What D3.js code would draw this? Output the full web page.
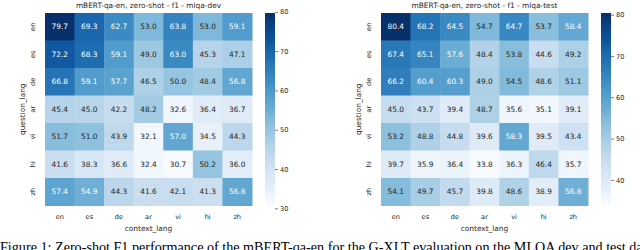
<!DOCTYPE html>
<html lang="en">
<head>
<meta charset="UTF-8">
<script src="https://d3js.org/d3.v7.min.js"></script>
<title>mlqa heatmaps</title>
<style>
  body { margin: 0; background: #fff; }
  svg text { font-family: "DejaVu Sans", sans-serif; fill: #262626; }
  .caption { font-family: "Liberation Serif", serif; fill: #000; }
</style>
</head>
<body>
<div id="chart"></div>
<script>
// languages on both axes
var langs = ['en', 'es', 'de', 'ar', 'vi', 'hi', 'zh'];

// f1 values, rows = question_lang, cols = context_lang
var devValues = [
  [79.7, 69.3, 62.7, 53.0, 63.8, 53.0, 59.1],
  [72.2, 68.3, 59.1, 49.0, 63.0, 45.3, 47.1],
  [66.8, 59.1, 57.7, 46.5, 50.0, 48.4, 56.8],
  [45.4, 45.0, 42.2, 48.2, 32.6, 36.4, 36.7],
  [51.7, 51.0, 43.9, 32.1, 57.0, 34.5, 44.3],
  [41.6, 38.3, 36.6, 32.4, 30.7, 50.2, 36.0],
  [57.4, 54.9, 44.3, 41.6, 42.1, 41.3, 56.8]
];
var testValues = [
  [80.4, 68.2, 64.5, 54.7, 64.7, 53.7, 58.4],
  [67.4, 65.1, 57.6, 48.4, 53.8, 44.6, 49.2],
  [66.2, 60.4, 60.3, 49.0, 54.5, 48.6, 51.1],
  [45.0, 43.7, 39.4, 48.7, 35.6, 35.1, 39.1],
  [53.2, 48.8, 44.8, 39.6, 58.3, 39.5, 43.4],
  [39.7, 35.9, 36.4, 33.8, 36.3, 46.4, 35.7],
  [54.1, 49.7, 45.7, 39.8, 48.6, 38.9, 56.8]
];
var devTicks = [30, 40, 50, 60, 70, 80];
var testTicks = [40, 50, 60, 70, 80];
var titles = ['mBERT-qa-en, zero-shot - f1 - mlqa-dev', 'mBERT-qa-en, zero-shot - f1 - mlqa-test'];
var caption = 'Figure 1: Zero-shot F1 performance of the mBERT-qa-en for the G-XLT evaluation on the MLQA dev and test dataset';

var width = 640, height = 250;
var svg = d3.select('#chart').append('svg')
  .attr('width', width)
  .attr('height', height);

var defs = svg.append('defs');

// seaborn-like choice of annotation colour
function luminance(c) {
  var rgb = d3.rgb(c);
  var lin = [rgb.r, rgb.g, rgb.b].map(function(v) {
    v = v / 255;
    return v <= 0.03928 ? v / 12.92 : Math.pow((v + 0.055) / 1.055, 2.4);
  });
  return 0.2126 * lin[0] + 0.7152 * lin[1] + 0.0722 * lin[2];
}

function heatmap(values, ticks, title, left, cbLeft, id) {
  var top = 13, bottom = 205.5;
  var gridW = 207;
  var cells = [];
  values.forEach(function(row, i) {
    row.forEach(function(v, j) { cells.push({ q: langs[i], c: langs[j], v: v }); });
  });
  var ext = d3.extent(cells, function(d) { return d.v; });
  var color = d3.scaleSequential(d3.interpolateBlues).domain(ext);

  var x = d3.scaleBand().domain(langs).range([left, left + gridW]);
  var y = d3.scaleBand().domain(langs).range([top, bottom]);

  var g = svg.append('g');
  g.selectAll('rect.cell')
    .data(cells)
    .enter()
    .append('rect')
      .attr('class', 'cell')
      .attr('x', function(d) { return x(d.c); })
      .attr('y', function(d) { return y(d.q); })
      .attr('width', x.bandwidth() + 0.5)
      .attr('height', y.bandwidth() + 0.5)
      .attr('fill', function(d) { return color(d.v); });

  g.selectAll('text.annot')
    .data(cells)
    .enter()
    .append('text')
      .attr('class', 'annot')
      .attr('x', function(d) { return x(d.c) + x.bandwidth() / 2; })
      .attr('y', function(d) { return y(d.q) + y.bandwidth() / 2; })
      .attr('text-anchor', 'middle')
      .attr('dominant-baseline', 'central')
      .style('font-size', '7.4px')
      .style('fill', function(d) { return luminance(color(d.v)) > 0.408 ? '#262626' : '#ffffff'; })
      .text(function(d) { return d.v.toFixed(1); });

  // x tick labels
  g.selectAll('text.xt')
    .data(langs)
    .enter()
    .append('text')
      .attr('class', 'xt')
      .attr('x', function(d) { return x(d) + x.bandwidth() / 2; })
      .attr('y', 219)
      .attr('text-anchor', 'middle')
      .style('font-size', '6.6px')
      .text(function(d) { return d; });

  // y tick labels, rotated like seaborn
  g.selectAll('text.yt')
    .data(langs)
    .enter()
    .append('text')
      .attr('class', 'yt')
      .attr('transform', function(d) {
        return 'translate(' + (left - 10) + ',' + (y(d) + y.bandwidth() / 2) + ') rotate(-90)';
      })
      .attr('text-anchor', 'middle')
      .style('font-size', '6.6px')
      .text(function(d) { return d; });

  g.append('text')
    .attr('x', left + gridW / 2)
    .attr('y', 231)
    .attr('text-anchor', 'middle')
    .style('font-size', '7.4px')
    .text('context_lang');

  g.append('text')
    .attr('transform', 'translate(' + (left - 20) + ',' + ((top + bottom) / 2) + ') rotate(-90)')
    .attr('text-anchor', 'middle')
    .style('font-size', '7.4px')
    .text('question_lang');

  g.append('text')
    .attr('x', left + gridW / 2)
    .attr('y', 8)
    .attr('text-anchor', 'middle')
    .style('font-size', '7.4px')
    .text(title);

  // colorbar
  var grad = defs.append('linearGradient')
    .attr('id', id)
    .attr('x1', 0).attr('y1', 1).attr('x2', 0).attr('y2', 0);
  d3.range(0, 1.01, 0.05).forEach(function(t) {
    grad.append('stop')
      .attr('offset', t)
      .attr('stop-color', color(ext[0] + t * (ext[1] - ext[0])));
  });
  g.append('rect')
    .attr('x', cbLeft)
    .attr('y', top)
    .attr('width', 10)
    .attr('height', bottom - top)
    .attr('fill', 'url(#' + id + ')');

  var cy = d3.scaleLinear().domain(ext).range([bottom, top]);
  var axis = g.append('g')
    .attr('transform', 'translate(' + (cbLeft + 10) + ',0)')
    .call(d3.axisRight(cy).tickValues(ticks).tickSize(3).tickPadding(2).tickFormat(d3.format('d')));
  axis.select('.domain').remove();
  axis.selectAll('line').attr('stroke', '#262626').attr('stroke-width', 0.6);
  axis.selectAll('text')
    .style('font-family', '"DejaVu Sans", sans-serif')
    .style('font-size', '6.6px')
    .attr('fill', '#262626');
}

heatmap(devValues, devTicks, titles[0], 45, 265, 'cbDev');
heatmap(testValues, testTicks, titles[1], 381, 601, 'cbTest');

// caption runs past the bottom edge, as in the reference crop
svg.append('text')
  .attr('class', 'caption')
  .attr('x', 0)
  .attr('y', 251.5)
  .style('font-size', '14.15px')
  .text(caption);
</script>
</body>
</html>
